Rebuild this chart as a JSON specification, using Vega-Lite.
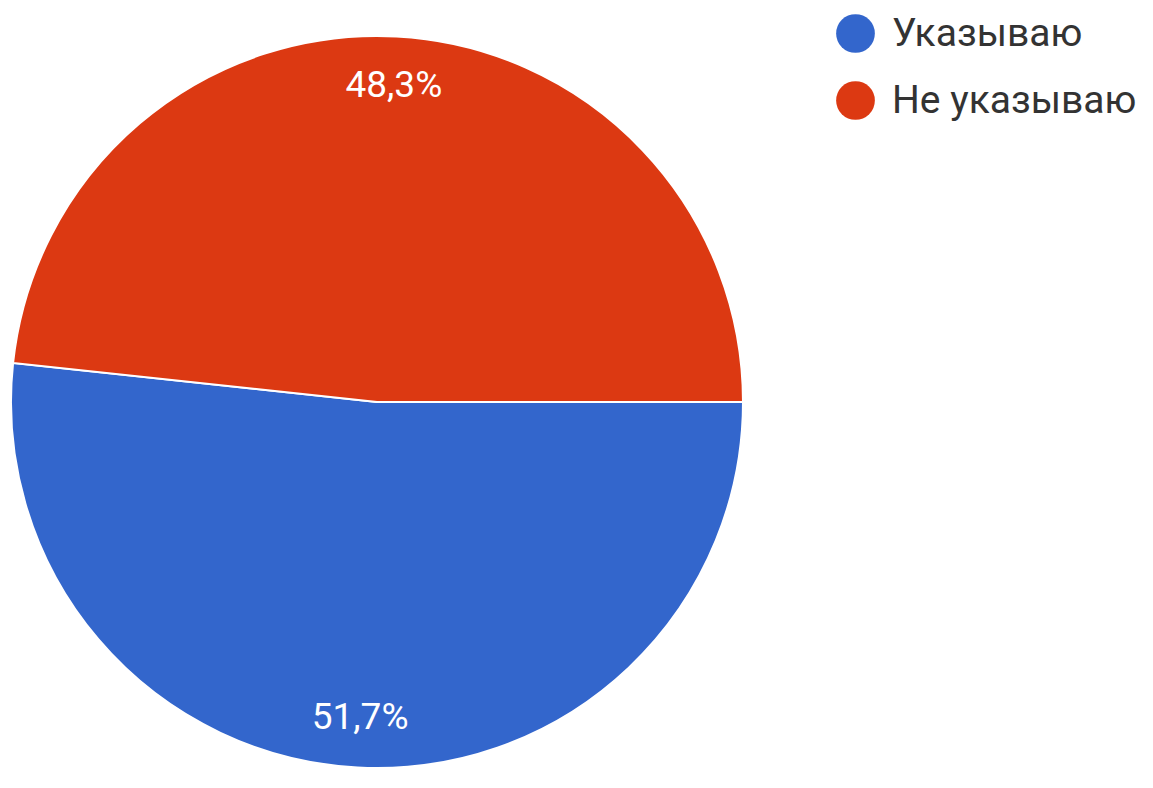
{
  "$schema": "https://vega.github.io/schema/vega-lite/v6.json",
  "width": 754,
  "height": 772,
  "padding": {"top": 16, "left": 0, "right": 399, "bottom": 0},
  "autosize": {"type": "none"},
  "background": "white",
  "view": {"stroke": null},
  "data": {
    "values": [
      {"answer": "Указываю", "value": 51.7, "label": "51,7%", "order": 1},
      {"answer": "Не указываю", "value": 48.3, "label": "48,3%", "order": 2}
    ]
  },
  "encoding": {
    "theta": {"field": "value", "type": "quantitative", "stack": true, "scale": {"range": [1.5708, 7.854]}},
    "order": {"field": "order", "type": "quantitative"}
  },
  "layer": [
    {
      "mark": {"type": "arc", "outerRadius": 366, "stroke": "white", "strokeWidth": 2},
      "encoding": {
        "color": {
          "field": "answer",
          "type": "nominal",
          "sort": ["Указываю", "Не указываю"],
          "scale": {"domain": ["Указываю", "Не указываю"], "range": ["#3366CC", "#DC3912"]},
          "legend": {
            "title": null,
            "orient": "none",
            "legendX": 836,
            "legendY": -2,
            "symbolType": "circle",
            "symbolSize": 1500,
            "symbolStrokeWidth": 0,
            "labelFont": "Roboto",
            "labelFontSize": 39,
            "labelColor": "#333333",
            "labelOffset": 17,
            "rowPadding": 27,
            "labelLimit": 400
          }
        }
      }
    },
    {
      "mark": {"type": "text", "radius": 316, "font": "Roboto", "fontSize": 37, "fill": "white", "baseline": "middle", "align": "center"},
      "encoding": {"text": {"field": "label", "type": "nominal"}}
    }
  ]
}
